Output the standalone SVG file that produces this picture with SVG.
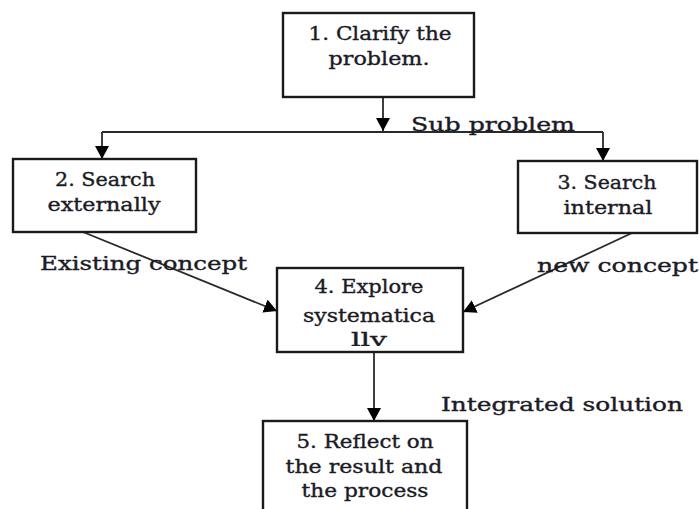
<svg xmlns="http://www.w3.org/2000/svg" width="699" height="509" viewBox="0 0 699 509">
<style>
.box{fill:#fff;stroke:#1a1a1a;stroke-width:2.4}
.t,.l{font-family:"DejaVu Serif","Liberation Serif",serif;font-size:18px;fill:#1b1b26;stroke:#1b1b26;stroke-width:0.35}
.t{text-anchor:middle}
.c{fill:none;stroke:#2a2a2a;stroke-width:1.8}
</style>
<defs>
<marker id="ah" markerUnits="userSpaceOnUse" markerWidth="14" markerHeight="14" viewBox="0 0 14 14" refX="13" refY="7" orient="auto">
<path d="M0,0 L13,7 L0,14 Z" fill="#000"/>
</marker>
<clipPath id="clip4"><rect x="278" y="268" width="184" height="78"/></clipPath>
</defs>
<rect width="699" height="509" fill="#fff"/>
<g id="connectors">
<path class="c" d="M383,97 V131" marker-end="url(#ah)"/>
<path class="c" d="M102,132 H603"/>
<path class="c" d="M102,132 V159" marker-end="url(#ah)"/>
<path class="c" d="M603,132 V161" marker-end="url(#ah)"/>
<path class="c" d="M83,232 L277,311" marker-end="url(#ah)"/>
<path class="c" d="M632,233 L463,312" marker-end="url(#ah)"/>
<path class="c" d="M374,352 V421" marker-end="url(#ah)"/>
</g>
<g id="node1">
<rect class="box" x="283" y="13" width="191" height="84"/>
<text class="t" x="380" y="40" textLength="143" lengthAdjust="spacingAndGlyphs">1. Clarify the</text>
<text class="t" x="379" y="65" textLength="101" lengthAdjust="spacingAndGlyphs">problem.</text>
</g>
<g id="node2">
<rect class="box" x="13" y="159" width="183" height="73"/>
<text class="t" x="105" y="186" textLength="100" lengthAdjust="spacingAndGlyphs">2. Search</text>
<text class="t" x="104" y="211" textLength="113" lengthAdjust="spacingAndGlyphs">externally</text>
</g>
<g id="node3">
<rect class="box" x="518" y="161" width="179" height="72"/>
<text class="t" x="607" y="189" textLength="99" lengthAdjust="spacingAndGlyphs">3. Search</text>
<text class="t" x="608" y="214" textLength="89" lengthAdjust="spacingAndGlyphs">internal</text>
</g>
<g id="node4">
<rect class="box" x="277" y="268" width="186" height="84"/>
<text class="t" x="369" y="293" textLength="109" lengthAdjust="spacingAndGlyphs">4. Explore</text>
<text class="t" x="369" y="322" textLength="132" lengthAdjust="spacingAndGlyphs">systematica</text>
<text class="t" x="369" y="346" textLength="36" lengthAdjust="spacingAndGlyphs" clip-path="url(#clip4)">lly</text>
</g>
<g id="node5">
<rect class="box" x="263" y="421" width="204" height="100"/>
<text class="t" x="365" y="448" textLength="137" lengthAdjust="spacingAndGlyphs">5. Reflect on</text>
<text class="t" x="364" y="473" textLength="157" lengthAdjust="spacingAndGlyphs">the result and</text>
<text class="t" x="365" y="497" textLength="127" lengthAdjust="spacingAndGlyphs">the process</text>
</g>
<g id="labels">
<text class="l" x="411" y="131" textLength="164" lengthAdjust="spacingAndGlyphs">Sub problem</text>
<text class="l" x="40" y="270" textLength="207" lengthAdjust="spacingAndGlyphs">Existing concept</text>
<text class="l" x="537" y="272" textLength="161" lengthAdjust="spacingAndGlyphs">new concept</text>
<text class="l" x="441" y="411" textLength="242" lengthAdjust="spacingAndGlyphs">Integrated solution</text>
</g>
</svg>
